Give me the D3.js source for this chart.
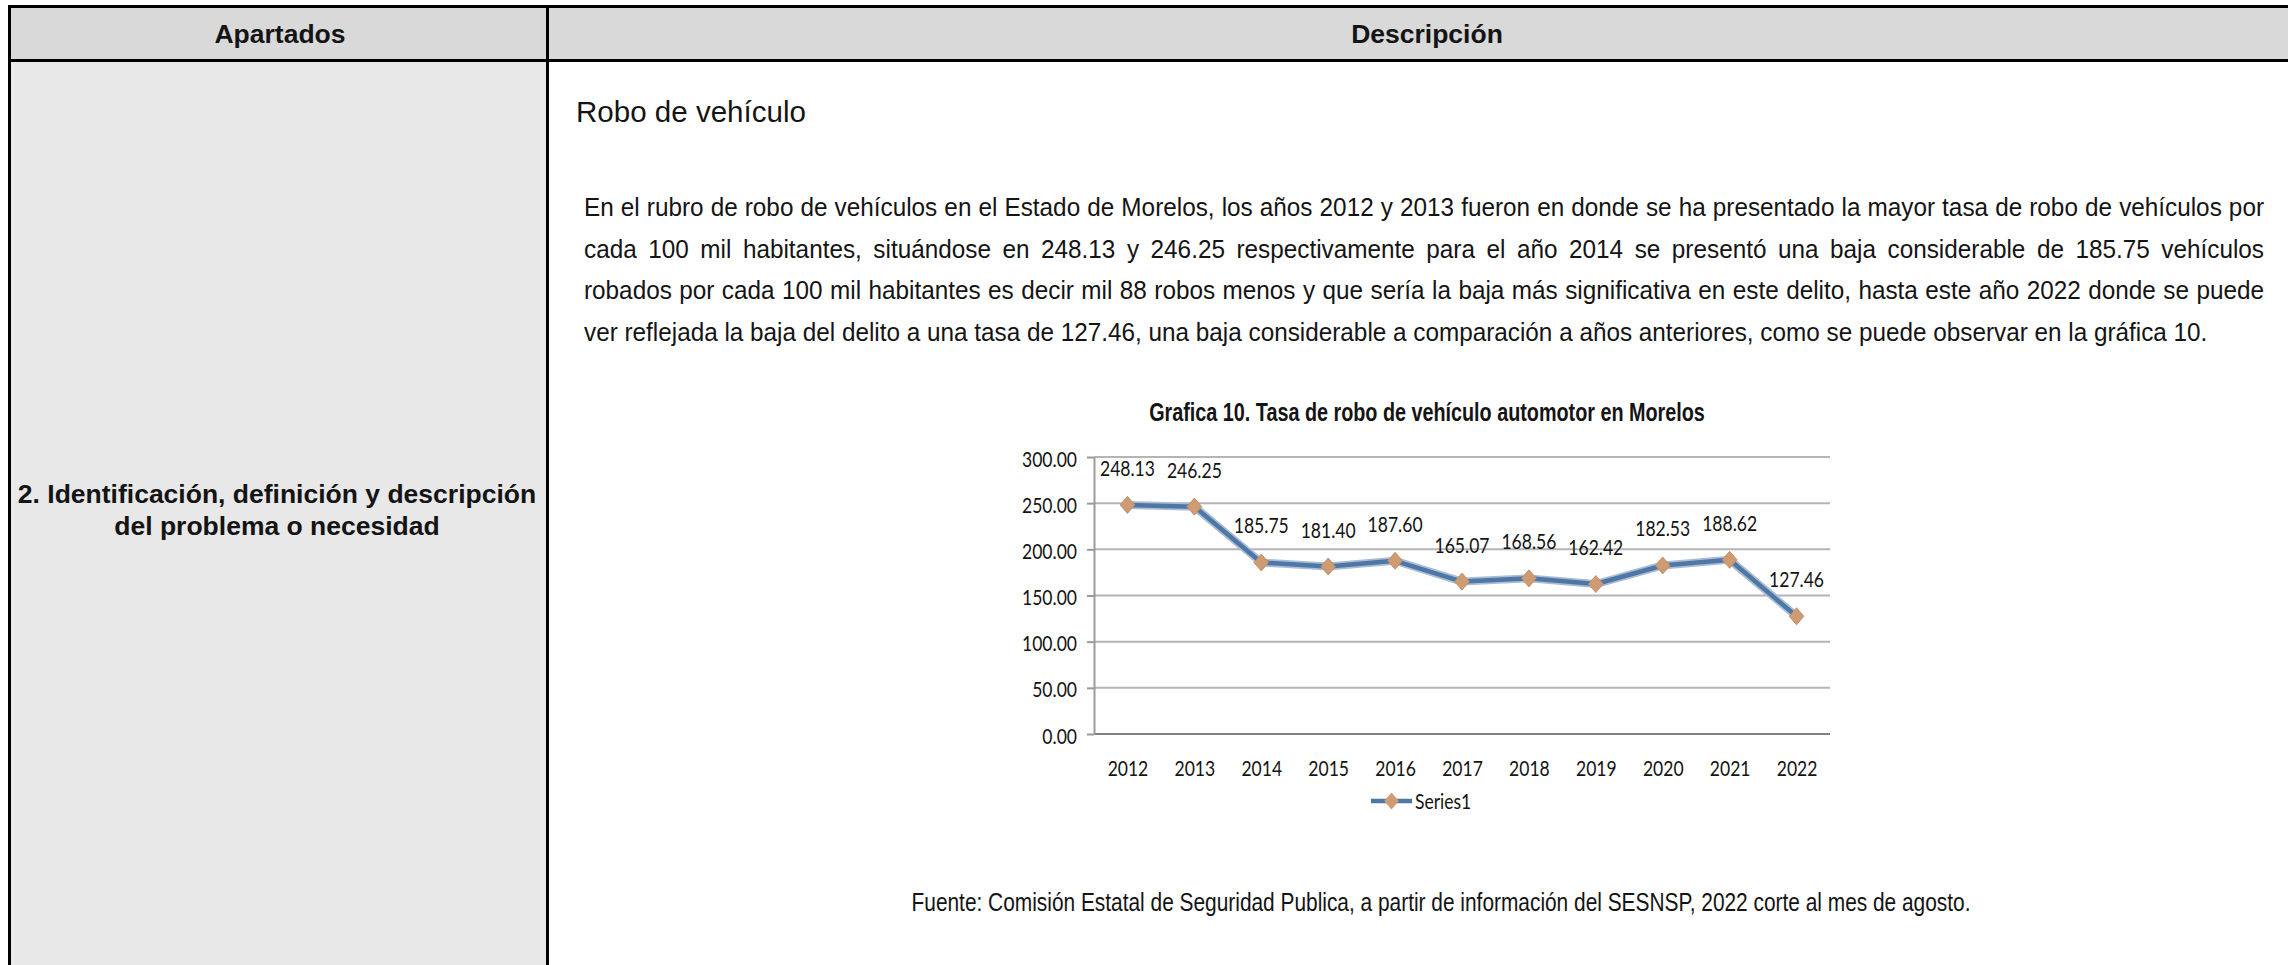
<!DOCTYPE html>
<html>
<head>
<meta charset="utf-8">
<script src="https://cdn.jsdelivr.net/npm/d3@7"></script>
<style>
  body { margin: 0; background: #fff; }
  svg text { font-family: "Liberation Sans", Arial, sans-serif; fill: #141414; }
</style>
</head>
<body>
<div id="page"></div>
<script>
var svgWidth = 2288;
var svgHeight = 965;

// chart data
var years = ["2012", "2013", "2014", "2015", "2016", "2017", "2018", "2019", "2020", "2021", "2022"];
var tasa = [248.13, 246.25, 185.75, 181.40, 187.60, 165.07, 168.56, 162.42, 182.53, 188.62, 127.46];
var yTicks = [0, 50, 100, 150, 200, 250, 300];
var seriesName = "Series1";

// texts of the table
var headers = ["Apartados", "Descripción"];
var apartado = ["2. Identificación, definición y descripción", "del problema o necesidad"];
var sectionTitle = "Robo de vehículo";
var parrafo = [
  "En el rubro de robo de vehículos en el Estado de Morelos, los años 2012 y 2013 fueron en donde se ha presentado la mayor tasa de robo de vehículos por",
  "cada 100 mil habitantes, situándose en 248.13 y 246.25 respectivamente para el año 2014 se presentó una baja considerable de 185.75 vehículos",
  "robados por cada 100 mil habitantes es decir mil 88 robos menos y que sería la baja más significativa en este delito, hasta este año 2022 donde se puede",
  "ver reflejada la baja del delito a una tasa de 127.46, una baja considerable a comparación a años anteriores, como se puede observar en la gráfica 10."
];
var chartTitle = "Grafica 10. Tasa de robo de vehículo automotor en Morelos";
var fuente = "Fuente: Comisión Estatal de Seguridad Publica, a partir de información del SESNSP, 2022 corte al mes de agosto.";

var svg = d3.select("#page")
  .append("svg")
  .attr("width", svgWidth)
  .attr("height", svgHeight);

// text helper, squeezes horizontally to a given width when asked
function addText(parent, str, x, y, size, weight, anchor, width, family) {
  var t = parent.append("text")
    .attr("transform", `translate(${x}, ${y})`)
    .attr("text-anchor", anchor)
    .style("font-size", size + "px")
    .style("font-weight", weight)
    .text(str);
  if (family) t.style("font-family", family);
  if (width) {
    var k = width / t.node().getComputedTextLength();
    t.attr("transform", `translate(${x}, ${y}) scale(${k}, 1)`);
  }
  return t;
}

// ---- table ----
svg.append("rect")
  .attr("x", 9.5).attr("y", 6.5)
  .attr("width", 2400).attr("height", 54)
  .attr("fill", "#d9d9d9");

svg.append("rect")
  .attr("x", 9.5).attr("y", 60.5)
  .attr("width", 538).attr("height", svgHeight)
  .attr("fill", "#e8e8e8");

var borders = svg.append("g").attr("stroke", "#000").attr("stroke-width", 3);
borders.append("line").attr("x1", 8).attr("x2", svgWidth).attr("y1", 6.5).attr("y2", 6.5);
borders.append("line").attr("x1", 8).attr("x2", svgWidth).attr("y1", 60.5).attr("y2", 60.5);
borders.append("line").attr("x1", 9.5).attr("x2", 9.5).attr("y1", 5).attr("y2", svgHeight);
borders.append("line").attr("x1", 547.5).attr("x2", 547.5).attr("y1", 5).attr("y2", svgHeight);

addText(svg, headers[0], 280, 42.5, 26.5, "bold", "middle");
addText(svg, headers[1], 1427, 42.5, 26.5, "bold", "middle");

addText(svg, apartado[0], 277, 503, 26.5, "bold", "middle");
addText(svg, apartado[1], 277, 535, 26.5, "bold", "middle");

// ---- description text ----
addText(svg, sectionTitle, 576, 122, 30, "normal", "start", 230);

var paraLeft = 584;
var paraRight = 2264;
var paraFont = 26;
var paraBase = [216, 257.5, 299, 340.5];

var lastLine = addText(svg, parrafo[3], paraLeft, paraBase[3], paraFont, "normal", "start", 2208 - paraLeft);
var kPara = (2208 - paraLeft) / lastLine.node().getComputedTextLength();

parrafo.slice(0, 3).forEach(function(line, i) {
  var words = line.split(" ");
  var g = svg.append("g")
    .attr("transform", `translate(${paraLeft}, ${paraBase[i]}) scale(${kPara}, 1)`);
  var texts = words.map(w => g.append("text").style("font-size", paraFont + "px").text(w));
  var widths = texts.map(t => t.node().getComputedTextLength());
  var gap = ((paraRight - paraLeft) / kPara - d3.sum(widths)) / (words.length - 1);
  var x = 0;
  texts.forEach(function(t, j) {
    t.attr("x", x);
    x += widths[j] + gap;
  });
});

// ---- chart ----
var plot = { left: 1094, right: 1830, top: 457, bottom: 734 };
var chartFont = "Lato, 'Liberation Sans', sans-serif";

addText(svg, chartTitle, 1427, 421, 25, "bold", "middle", 556);

var xScale = d3.scalePoint()
  .domain(years)
  .range([plot.left, plot.right])
  .padding(0.5);

var yScale = d3.scaleLinear()
  .domain([0, 300])
  .range([plot.bottom, plot.top]);

// measure chart label squeeze from the widest tick label
var probe = svg.append("text").style("font-size", "22px").style("font-family", chartFont).text("300.00");
var kChart = 55 / probe.node().getComputedTextLength();
probe.remove();

var chartGroup = svg.append("g");

chartGroup.append("g")
  .selectAll("line")
  .data(yTicks)
  .enter()
  .append("line")
  .attr("x1", plot.left)
  .attr("x2", plot.right)
  .attr("y1", d => yScale(d))
  .attr("y2", d => yScale(d))
  .attr("stroke", d => d === 0 ? "#808080" : "#b4b4b4")
  .attr("stroke-width", 2);

var yAxis = d3.axisLeft(yScale)
  .tickValues(yTicks)
  .tickFormat(d3.format(".2f"))
  .tickSize(7)
  .tickSizeOuter(0);

var yAxisGroup = chartGroup.append("g")
  .attr("transform", `translate(${plot.left}, 0)`)
  .call(yAxis);

yAxisGroup.select(".domain").attr("stroke", "#9a9a9a").attr("stroke-width", 2);
yAxisGroup.selectAll(".tick line").attr("stroke", "#9a9a9a").attr("stroke-width", 2);
yAxisGroup.selectAll(".tick text")
  .attr("x", null)
  .attr("dy", null)
  .attr("transform", `translate(-17, 9) scale(${kChart}, 1)`)
  .style("font-size", "22px")
  .style("font-family", chartFont)
  .attr("fill", "#141414");

var xAxis = d3.axisBottom(xScale).tickSize(0);

var xAxisGroup = chartGroup.append("g")
  .attr("transform", `translate(0, ${plot.bottom})`)
  .call(xAxis);

xAxisGroup.select(".domain").remove();
xAxisGroup.selectAll(".tick text")
  .attr("y", null)
  .attr("dy", null)
  .attr("transform", `translate(0, 42) scale(${kChart}, 1)`)
  .style("font-size", "22px")
  .style("font-family", chartFont)
  .attr("fill", "#141414");

var points = years.map((d, i) => ({ year: d, value: tasa[i] }));

var line = d3.line()
  .x(d => xScale(d.year))
  .y(d => yScale(d.value));

chartGroup.append("path")
  .datum(points)
  .attr("d", line)
  .attr("fill", "none")
  .attr("stroke", "#a9bdd6")
  .attr("stroke-width", 8)
  .attr("stroke-linejoin", "round");

chartGroup.append("path")
  .datum(points)
  .attr("d", line)
  .attr("fill", "none")
  .attr("stroke", "#4f77a6")
  .attr("stroke-width", 4.5)
  .attr("stroke-linejoin", "round");

var diamond = d3.symbol().type(d3.symbolSquare).size(120);

chartGroup.selectAll(".marker")
  .data(points)
  .enter()
  .append("path")
  .attr("class", "marker")
  .attr("d", diamond)
  .attr("transform", d => `translate(${xScale(d.year)}, ${yScale(d.value)}) scale(0.95, 1.1) rotate(45)`)
  .attr("fill", "#cf9b72")
  .attr("stroke", "#c08a62")
  .attr("stroke-width", 0.8);

chartGroup.selectAll(".value-label")
  .data(points)
  .enter()
  .append("text")
  .attr("class", "value-label")
  .attr("text-anchor", "middle")
  .attr("transform", d => `translate(${xScale(d.year)}, ${yScale(d.value) - 29}) scale(${kChart}, 1)`)
  .style("font-size", "22px")
  .style("font-family", chartFont)
  .text(d => d.value.toFixed(2));

// legend
var legend = chartGroup.append("g").attr("transform", "translate(1371, 801)");
legend.append("line")
  .attr("x1", 0).attr("x2", 41)
  .attr("stroke", "#4f77a6")
  .attr("stroke-width", 4.5);
legend.append("path")
  .attr("d", diamond)
  .attr("transform", "translate(20.5, 0) scale(0.95, 1.1) rotate(45)")
  .attr("fill", "#cf9b72");
legend.append("text")
  .attr("transform", `translate(44, 8) scale(${kChart}, 1)`)
  .style("font-size", "22px")
  .style("font-family", chartFont)
  .text(seriesName);

// source note
addText(svg, fuente, 1441, 911, 25, "normal", "middle", 1060);
</script>
</body>
</html>
